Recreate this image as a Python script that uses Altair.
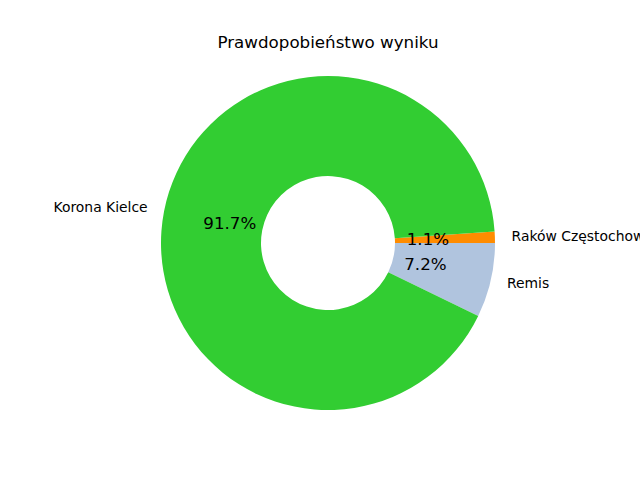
import math
import altair as alt
import pandas as pd

labels = ["Raków Częstochowa", "Remis", "Korona Kielce"]
values = [1.1, 7.2, 91.7]
colors = ["#FF8C00", "#B0C4DE", "#32CD32"]
sides = ["R", "R", "L"]
pct_text = ["1.1%", "7.2%", "91.7%"]

df = pd.DataFrame({
    "label": labels,
    "value": values,
    "side": sides,
    "pct": pct_text,
    "ord": list(range(len(labels))),
})

total = sum(values)
# matplotlib starts the first wedge at 3 o'clock going counter-clockwise
start = math.pi / 2 - 2 * math.pi * values[0] / total
theta_scale = alt.Scale(range=[start, start + 2 * math.pi])

base = alt.Chart(df).encode(
    theta=alt.Theta("value:Q", stack=True, scale=theta_scale),
    order=alt.Order("ord:Q"),
)

arcs = base.mark_arc(outerRadius=167, innerRadius=67, stroke=None).encode(
    color=alt.Color("label:N", scale=alt.Scale(domain=labels, range=colors), legend=None)
)

font = "DejaVu Sans"
lab_r = base.transform_calculate(t="datum.side == 'R' ? datum.label : ''").mark_text(
    radius=183.7, align="left", baseline="middle", font=font, fontSize=13.9, color="black"
).encode(text="t:N")
lab_l = base.transform_calculate(t="datum.side == 'L' ? datum.label : ''").mark_text(
    radius=183.7, align="right", baseline="middle", font=font, fontSize=13.9, color="black"
).encode(text="t:N")
pct = base.mark_text(
    radius=100, align="center", baseline="middle", font=font, fontSize=16.7, color="black"
).encode(text="pct:N")

chart = alt.layer(arcs, pct, lab_r, lab_l).properties(
    width=496,
    height=370,
    title=alt.TitleParams(
        "Prawdopobieństwo wyniku", font=font, fontSize=16.7, fontWeight="normal",
        color="black", offset=6, anchor="middle"
    ),
    autosize=alt.AutoSizeParams(type="none"),
    padding={"left": 80, "top": 58, "right": 64, "bottom": 52},
).configure_view(stroke=None)

chart.save("out.html", embed_options={"renderer": "svg", "actions": False})
